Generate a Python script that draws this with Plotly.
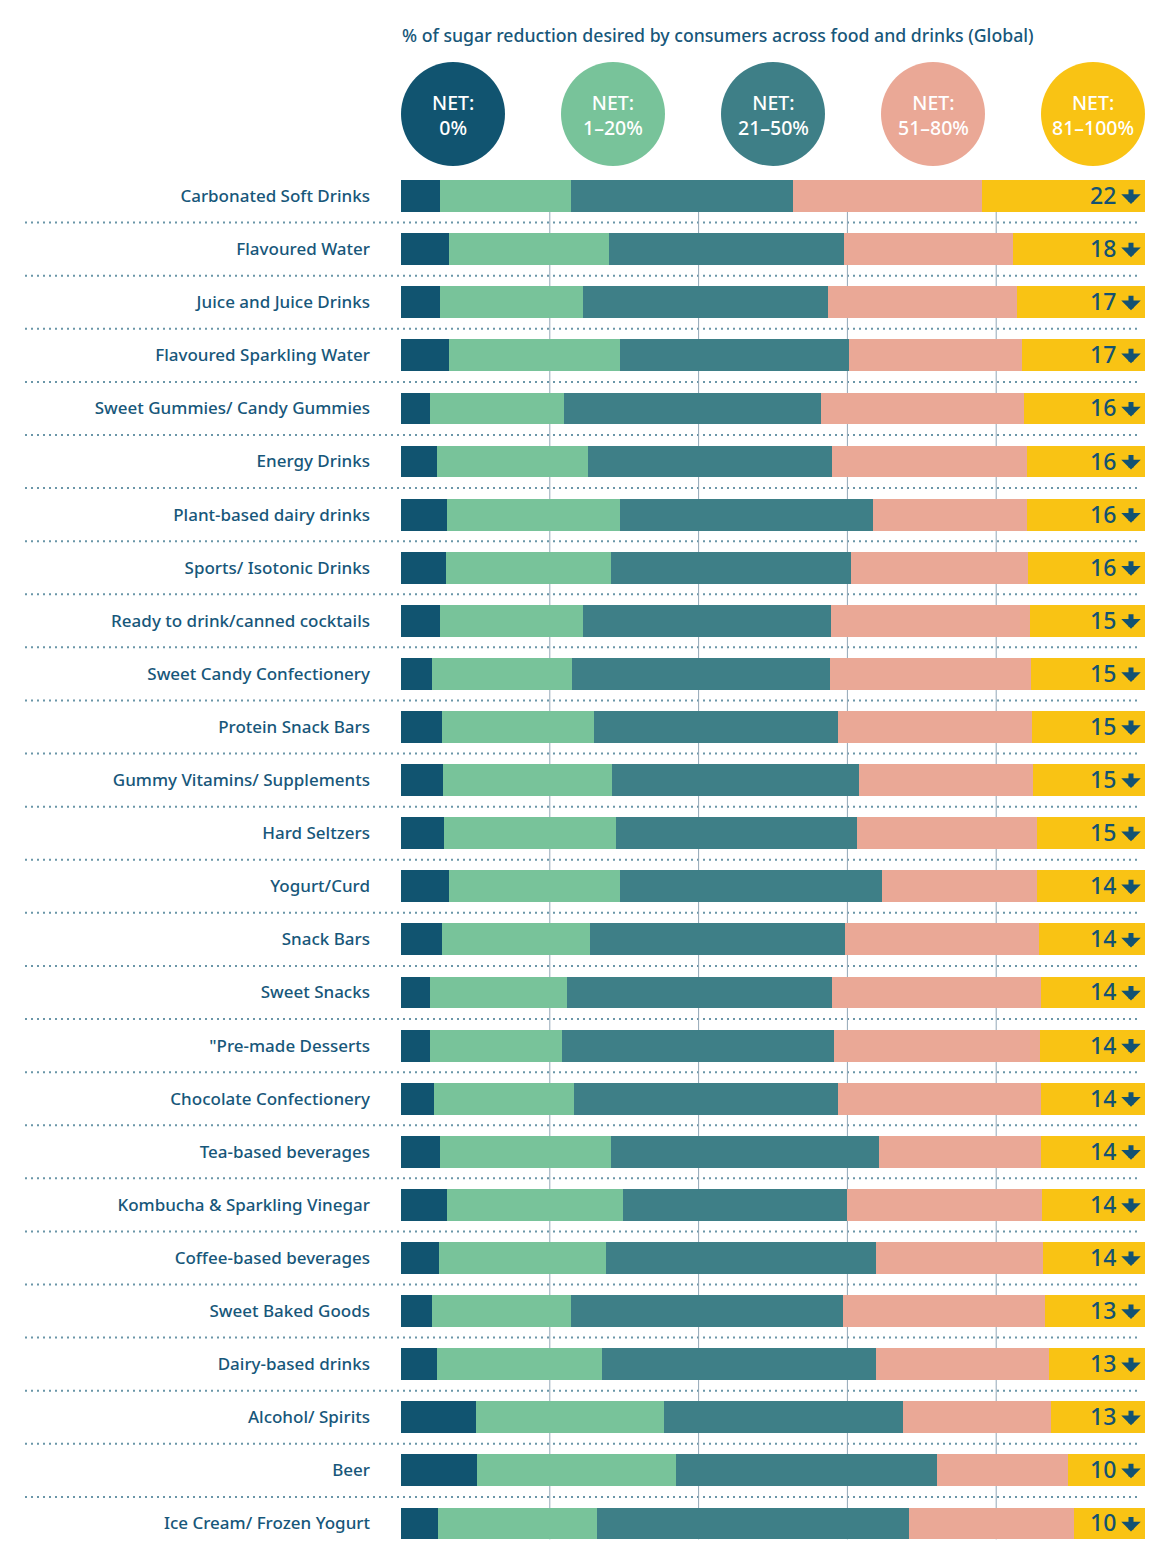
import plotly.graph_objects as go

categories = [
    "Carbonated Soft Drinks", "Flavoured Water", "Juice and Juice Drinks",
    "Flavoured Sparkling Water", "Sweet Gummies/ Candy Gummies", "Energy Drinks",
    "Plant-based dairy drinks", "Sports/ Isotonic Drinks",
    "Ready to drink/canned cocktails", "Sweet Candy Confectionery",
    "Protein Snack Bars", "Gummy Vitamins/ Supplements", "Hard Seltzers",
    "Yogurt/Curd", "Snack Bars", "Sweet Snacks", "\"Pre-made Desserts",
    "Chocolate Confectionery", "Tea-based beverages",
    "Kombucha & Sparkling Vinegar", "Coffee-based beverages",
    "Sweet Baked Goods", "Dairy-based drinks", "Alcohol/ Spirits", "Beer",
    "Ice Cream/ Frozen Yogurt",
]

net_0 = [5.3, 6.4, 5.3, 6.4, 3.9, 4.9, 6.2, 6.1, 5.3, 4.2, 5.5, 5.6, 5.8,
         6.5, 5.5, 3.9, 3.9, 4.5, 5.3, 6.2, 5.1, 4.2, 4.8, 10.1, 10.2, 5.0]
net_1_20 = [17.6, 21.5, 19.2, 23.1, 18.0, 20.3, 23.2, 22.1, 19.2, 18.8, 20.4,
            22.7, 23.1, 22.9, 19.9, 18.4, 17.8, 18.7, 22.9, 23.6, 22.4, 18.6,
            22.2, 25.2, 26.8, 21.4]
net_21_50 = [29.8, 31.6, 32.9, 30.7, 34.6, 32.7, 34.1, 32.3, 33.3, 34.6, 32.9,
             33.2, 32.4, 35.2, 34.3, 35.6, 36.5, 35.6, 36.1, 30.1, 36.3, 36.6,
             36.9, 32.2, 35.0, 41.9]
net_51_80 = [25.4, 22.8, 25.4, 23.2, 27.3, 26.3, 20.6, 23.8, 26.8, 27.1, 26.0,
             23.5, 24.2, 20.9, 26.1, 28.1, 27.7, 27.2, 21.7, 26.2, 22.5, 27.1,
             23.2, 19.8, 17.7, 22.2]
net_81_100 = [21.9, 17.7, 17.2, 16.6, 16.2, 15.8, 15.9, 15.7, 15.4, 15.3, 15.2,
              15.0, 14.5, 14.5, 14.2, 14.0, 14.1, 14.0, 14.0, 13.9, 13.7, 13.5,
              12.9, 12.7, 10.3, 9.5]
top_labels = [22, 18, 17, 17, 16, 16, 16, 16, 15, 15, 15, 15, 15, 14, 14, 14,
              14, 14, 14, 14, 14, 13, 13, 13, 10, 10]

series_names = ["NET: 0%", "NET: 1–20%", "NET: 21–50%", "NET: 51–80%", "NET: 81–100%"]
legend_lines = ["0%", "1–20%", "21–50%", "51–80%", "81–100%"]
series_values = [net_0, net_1_20, net_21_50, net_51_80, net_81_100]
colors = ["#115470", "#78C39A", "#3E7F87", "#EAA896", "#F9C314"]
gridline_values = [20, 40, 60, 80]

title_text = "% of sugar reduction desired by consumers across food and drinks (Global)"

OFF = 8
W, H = 1170 - OFF, 1557 - OFF
FONT = "Noto Sans"
TEXT_COLOR = "#17577A"
NUM_COLOR = "#135272"

X0_PX, X1_PX = 401, 1145
Y_TOP_PX, Y_BOT_PX = 169.5, 1550


def px_x(p):
    return (p - OFF) / W


def px_y(p):
    return 1 - (p - OFF) / H


fig = go.Figure()
for name, vals, col in zip(series_names, series_values, colors):
    fig.add_trace(go.Bar(
        y=categories, x=vals, orientation="h", name=name,
        marker=dict(color=col, line=dict(width=0)),
        hoverinfo="skip", showlegend=False,
    ))

n = len(categories)
shapes = []
for g in gridline_values:
    shapes.append(dict(type="line", xref="x", yref="y", x0=g, x1=g,
                       y0=-0.3, y1=n - 1 + 0.3, layer="below",
                       line=dict(color="#93A7B7", width=1)))
for i in range(n - 1):
    shapes.append(dict(type="line", xref="paper", yref="y",
                       x0=px_x(25), x1=px_x(1141), y0=i + 0.5, y1=i + 0.5,
                       layer="below",
                       line=dict(color="#6A96A8", width=2, dash="2px,4px")))

R = 52
CY = 114
step = (X1_PX - X0_PX - 2 * R) / (len(colors) - 1)
annotations = []
for k, (col, lab) in enumerate(zip(colors, legend_lines)):
    cx = X0_PX + R + k * step
    shapes.append(dict(type="circle", xref="paper", yref="paper",
                       x0=px_x(cx - R), x1=px_x(cx + R),
                       y0=px_y(CY + R), y1=px_y(CY - R),
                       fillcolor=col, line=dict(width=0)))
    annotations.append(dict(xref="paper", yref="paper", x=px_x(cx), y=px_y(CY + 1),
                            text="NET:<br>" + lab, showarrow=False,
                            xanchor="center", yanchor="middle",
                            font=dict(family=FONT, size=19.5, color="#ffffff", weight=500)))

annotations.append(dict(xref="paper", yref="paper", x=px_x(400), y=px_y(35),
                        text=title_text, showarrow=False, xanchor="left", yanchor="middle",
                        font=dict(family=FONT, size=17.7, color=TEXT_COLOR, weight=500)))

for cat, lab in zip(categories, top_labels):
    annotations.append(dict(xref="x", yref="y", x=100, y=cat, xshift=-27, yshift=1,
                            text=str(lab), showarrow=False, xanchor="right", yanchor="middle",
                            font=dict(family=FONT, size=23, color=NUM_COLOR, weight=500)))
    annotations.append(dict(xref="x", yref="y", x=100, y=cat, xshift=-14, yshift=-8,
                            text="", showarrow=True, ax=0, ay=-16,
                            arrowhead=1, arrowsize=0.65, arrowwidth=5,
                            arrowcolor=NUM_COLOR, standoff=0, startstandoff=0))

fig.update_layout(
    width=W, height=H,
    margin=dict(l=0, r=0, t=0, b=0),
    paper_bgcolor="white", plot_bgcolor="white",
    barmode="stack", bargap=0.4,
    shapes=shapes, annotations=annotations,
    xaxis=dict(domain=[px_x(X0_PX), px_x(X1_PX)], range=[0, 100],
               showgrid=False, zeroline=False, showticklabels=False,
               fixedrange=True),
    yaxis=dict(domain=[px_y(Y_BOT_PX), px_y(Y_TOP_PX)],
               type="category", categoryorder="array", categoryarray=categories,
               range=[n - 0.5, -0.5], showgrid=False, zeroline=False,
               ticks="", ticklabelstandoff=30,
               tickfont=dict(family=FONT, size=17, color=TEXT_COLOR, weight=500),
               fixedrange=True),
    showlegend=False,
)

fig.write_html("out.html")
